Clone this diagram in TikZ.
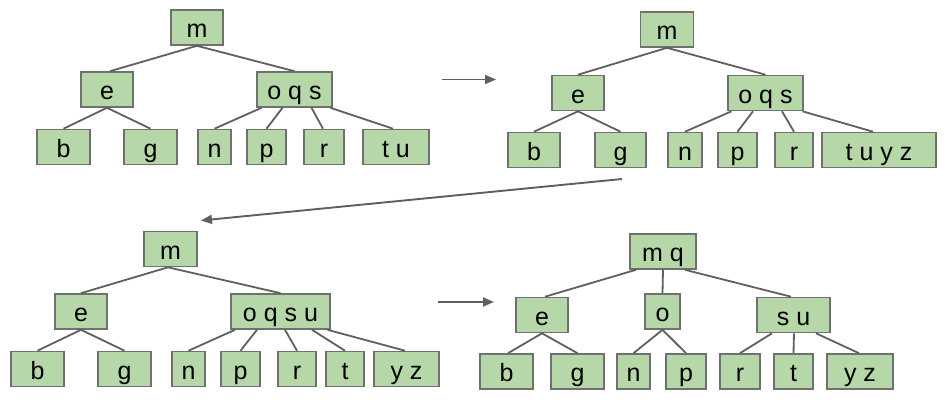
\documentclass[tikz,border=0pt]{standalone}
\usepackage{fontspec}
\setmainfont{Liberation Sans}
\usetikzlibrary{arrows.meta,calc}
\definecolor{boxfill}{HTML}{B6D7A8}
\definecolor{boxline}{HTML}{707070}
\definecolor{edgecol}{HTML}{5F5F5F}
\tikzset{
  keybox/.style={draw=boxline, line width=1.6pt, fill=boxfill, inner sep=0pt,
    minimum height=35pt, text height=20pt, text depth=0pt,
    font=\fontsize{25}{27}\selectfont},
  edge/.style={draw=edgecol, line width=1.8pt},
  steparrow/.style={draw=edgecol, line width=1.9pt, -{Triangle[length=11pt,width=9pt]}},
}
\begin{document}
\begin{tikzpicture}[x=1pt,y=-1pt]
\useasboundingbox (0,0) rectangle (946,402);
% ---------- tree 1 ----------
\node[keybox, minimum width=52pt] (a-m) at (197,27.5) {m};
\node[keybox, minimum width=52pt] (a-e) at (107,89.5) {e};
\node[keybox, minimum width=75pt] (a-oqs) at (294.5,89.5) {o q s};
\node[keybox, minimum width=53pt] (a-b) at (63.5,147) {b};
\node[keybox, minimum width=53pt] (a-g) at (150.5,147) {g};
\node[keybox, minimum width=33pt] (a-n) at (214.5,147) {n};
\node[keybox, minimum width=39pt] (a-p) at (266.5,147) {p};
\node[keybox, minimum width=40pt] (a-r) at (324,147) {r};
\node[keybox, minimum width=66pt] (a-tu) at (396,147) {t u};
\draw[edge] (a-m.south) -- ([xshift=3pt]a-e.north);
\draw[edge] (a-m.south) -- (a-oqs.north);
\draw[edge] (a-e.south) -- (a-b.north);
\draw[edge] (a-e.south) -- (a-g.north);
\draw[edge] ([xshift=-33pt]a-oqs.south) -- (a-n.north);
\draw[edge] ([xshift=-12pt]a-oqs.south) -- (a-p.north);
\draw[edge] ([xshift=17pt]a-oqs.south) -- ([xshift=-1pt]a-r.north);
\draw[edge] ([xshift=36pt]a-oqs.south) -- ([xshift=-3pt]a-tu.north);
% ---------- tree 2 ----------
\node[keybox, minimum width=53pt] (b-m) at (667,29.5) {m};
\node[keybox, minimum width=52pt] (b-e) at (578,93) {e};
\node[keybox, minimum width=75pt] (b-oqs) at (765.5,93) {o q s};
\node[keybox, minimum width=52pt] (b-b) at (534,150) {b};
\node[keybox, minimum width=51pt] (b-g) at (620.5,150) {g};
\node[keybox, minimum width=34pt] (b-n) at (685,150) {n};
\node[keybox, minimum width=39pt] (b-p) at (737.5,150) {p};
\node[keybox, minimum width=38pt] (b-r) at (794,150) {r};
\node[keybox, minimum width=114pt] (b-tuyz) at (879,150) {t u y z};
\draw[edge] (b-m.south) -- (b-e.north);
\draw[edge] (b-m.south) -- (b-oqs.north);
\draw[edge] (b-e.south) -- (b-b.north);
\draw[edge] (b-e.south) -- (b-g.north);
\draw[edge] ([xshift=-34pt]b-oqs.south) -- (b-n.north);
\draw[edge] ([xshift=-12.5pt]b-oqs.south) -- (b-p.north);
\draw[edge] ([xshift=16.5pt]b-oqs.south) -- (b-r.north);
\draw[edge] ([xshift=37pt]b-oqs.south) -- ([xshift=-6pt]b-tuyz.north);
% ---------- tree 3 ----------
\node[keybox, minimum width=53pt] (c-m) at (170.5,249) {m};
\node[keybox, minimum width=52pt] (c-e) at (81,311.5) {e};
\node[keybox, minimum width=99pt] (c-oqsu) at (280.5,311.5) {o q s u};
\node[keybox, minimum width=53pt] (c-b) at (37.5,369) {b};
\node[keybox, minimum width=53pt] (c-g) at (124.5,369) {g};
\node[keybox, minimum width=33pt] (c-n) at (188.5,369) {n};
\node[keybox, minimum width=39pt] (c-p) at (240.5,369) {p};
\node[keybox, minimum width=38pt] (c-r) at (297,369) {r};
\node[keybox, minimum width=38pt] (c-t) at (345,369) {t};
\node[keybox, minimum width=65pt] (c-yz) at (406.5,369) {y z};
\draw[edge] ([xshift=-2.5pt]c-m.south) -- (c-e.north);
\draw[edge] ([xshift=-2.5pt]c-m.south) -- (c-oqsu.north);
\draw[edge] (c-e.south) -- (c-b.north);
\draw[edge] (c-e.south) -- (c-g.north);
\draw[edge] ([xshift=-45.5pt]c-oqsu.south) -- (c-n.north);
\draw[edge] ([xshift=-23.5pt]c-oqsu.south) -- (c-p.north);
\draw[edge] ([xshift=4.5pt]c-oqsu.south) -- (c-r.north);
\draw[edge] ([xshift=31.5pt]c-oqsu.south) -- (c-t.north);
\draw[edge] ([xshift=47pt]c-oqsu.south) -- ([xshift=-1.5pt]c-yz.north);
% ---------- tree 4 ----------
\node[keybox, minimum width=66pt] (d-mq) at (663,251.5) {m q};
\node[keybox, minimum width=52pt] (d-e) at (542,315) {e};
\node[keybox, minimum width=35pt] (d-o) at (662.5,311.5) {o};
\node[keybox, minimum width=73pt] (d-su) at (793.5,315) {s u};
\node[keybox, minimum width=53pt] (d-b) at (506.5,371.5) {b};
\node[keybox, minimum width=53pt] (d-g) at (577.5,371.5) {g};
\node[keybox, minimum width=33pt] (d-n) at (633.5,371.5) {n};
\node[keybox, minimum width=40pt] (d-p) at (686,371.5) {p};
\node[keybox, minimum width=40pt] (d-r) at (740,371.5) {r};
\node[keybox, minimum width=39pt] (d-t) at (793.5,371.5) {t};
\node[keybox, minimum width=66pt] (d-yz) at (860,371.5) {y z};
\draw[edge] ([xshift=-27pt]d-mq.south) -- ([xshift=3pt]d-e.north);
\draw[edge] (d-mq.south) -- (d-o.north);
\draw[edge] ([xshift=22pt]d-mq.south) -- ([xshift=-2.5pt]d-su.north);
\draw[edge] (d-e.south) -- ([xshift=1.5pt]d-b.north);
\draw[edge] (d-e.south) -- (d-g.north);
\draw[edge] (d-o.south) -- (d-n.north);
\draw[edge] (d-o.south) -- (d-p.north);
\draw[edge] ([xshift=-21.5pt]d-su.south) -- (d-r.north);
\draw[edge] ([xshift=0.5pt]d-su.south) -- (d-t.north);
\draw[edge] ([xshift=22.5pt]d-su.south) -- ([xshift=-1pt]d-yz.north);
% ---------- step arrows ----------
\coordinate (s1) at (442,79.5);
\coordinate (e1) at (496,79.5);
\coordinate (s2) at (622,179);
\coordinate (e2) at (201,220.5);
\coordinate (s3) at (438,302);
\coordinate (e3) at (494,302);
\draw[steparrow] (s1) -- (e1);
\draw[steparrow] (s2) -- (e2);
\draw[steparrow] (s3) -- (e3);
\end{tikzpicture}
\end{document}
